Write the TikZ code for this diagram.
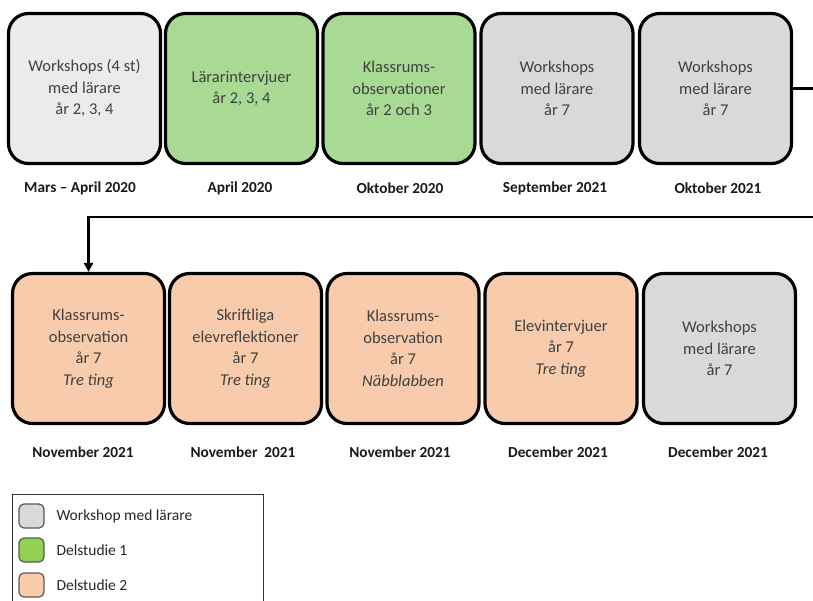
\documentclass[tikz,border=0pt]{standalone}
\usepackage{fontspec}
\setmainfont{Carlito}
\usetikzlibrary{arrows.meta}

\definecolor{wsgray}{HTML}{D9D9D9}
\definecolor{wslight}{HTML}{EBEBEB}
\definecolor{dsgreen}{HTML}{A9DA94}
\definecolor{dspeach}{HTML}{F8CBAD}
\definecolor{legendgreen}{HTML}{92D050}
\definecolor{boxtext}{HTML}{404040}

\tikzset{
    phase/.style={draw=black, line width=3.2pt, rounded corners=20pt,
        minimum width=152pt, minimum height=150pt, align=center,
        text=boxtext, font=\fontsize{16.5}{21.5}\selectfont},
    datelabel/.style={font=\fontsize{15.3}{18}\selectfont\bfseries, text=black!90},
    swatch/.style={draw=black!65, line width=1.2pt, rounded corners=5pt,
        minimum width=25pt, minimum height=24pt},
    legendtext/.style={anchor=west, text=black!85, font=\fontsize{15.5}{18}\selectfont},
}

\begin{document}
\begin{tikzpicture}[x=1pt, y=-1pt]
    \useasboundingbox (0,0) rectangle (813,600);

    % first row
    \node[phase, fill=wslight] (ws1) at (84.5,88.5) {Workshops (4 st)\\med lärare\\år 2, 3, 4};
    \node[phase, fill=dsgreen] (li) at (241.5,88.5) {Lärarintervjuer\\år 2, 3, 4};
    \node[phase, fill=dsgreen] (ko1) at (399,88.5) {Klassrums-\\observationer\\år 2 och 3};
    \node[phase, fill=wsgray] (ws2) at (557,88.5) {Workshops\\med lärare\\år 7};
    \node[phase, fill=wsgray] (ws3) at (715.5,88.5) {Workshops\\med lärare\\år 7};

    \node[datelabel] (d1) at (80,188) {Mars -- April 2020};
    \node[datelabel] (d2) at (240,188) {April 2020};
    \node[datelabel] (d3) at (400,188) {Oktober 2020};
    \node[datelabel] (d4) at (555,188) {September 2021};
    \node[datelabel] (d5) at (718,188) {Oktober 2021};

    % second row
    \node[phase, fill=dspeach] (ko2) at (88.5,348.5) {Klassrums-\\observation\\år 7\\\textit{Tre ting}};
    \node[phase, fill=dspeach] (sr) at (245.5,348.5) {Skriftliga\\elevreflektioner\\år 7\\\textit{Tre ting}};
    \node[phase, fill=dspeach] (ko3) at (403,348.5) {Klassrums-\\observation\\år 7\\\textit{Näbblabben}};
    \node[phase, fill=dspeach] (ei) at (561,348.5) {Elevintervjuer\\år 7\\\textit{Tre ting}};
    \node[phase, fill=wsgray] (ws4) at (719.5,348.5) {Workshops\\med lärare\\år 7};

    \node[datelabel] (d6) at (83,452) {November 2021};
    \node[datelabel] (d7) at (243,452) {November\ \ 2021};
    \node[datelabel] (d8) at (400,452) {November 2021};
    \node[datelabel] (d9) at (558,452) {December 2021};
    \node[datelabel] (d10) at (718,452) {December 2021};

    % link between the rows
    \coordinate (turn1) at (830,88.5);
    \coordinate (turn2) at (830,217);
    \draw[line width=2.8pt, -{Triangle[length=9pt, width=9pt]}]
        (ws3.east) -- (turn1) -- (turn2) -| (ko2.north);

    % legend
    \node[draw=black!80, line width=0.9pt, minimum width=251pt, minimum height=120pt,
        anchor=north west] (legend) at (12,494) {};
    \node[swatch, fill=wsgray] (s1) at (31.5,516) {};
    \node[swatch, fill=legendgreen] (s2) at (31.5,550) {};
    \node[swatch, fill=dspeach] (s3) at (31.5,585) {};
    \node[legendtext] (t1) at (53,516) {Workshop med lärare};
    \node[legendtext] (t2) at (53,550) {Delstudie 1};
    \node[legendtext] (t3) at (53,585) {Delstudie 2};
\end{tikzpicture}
\end{document}
